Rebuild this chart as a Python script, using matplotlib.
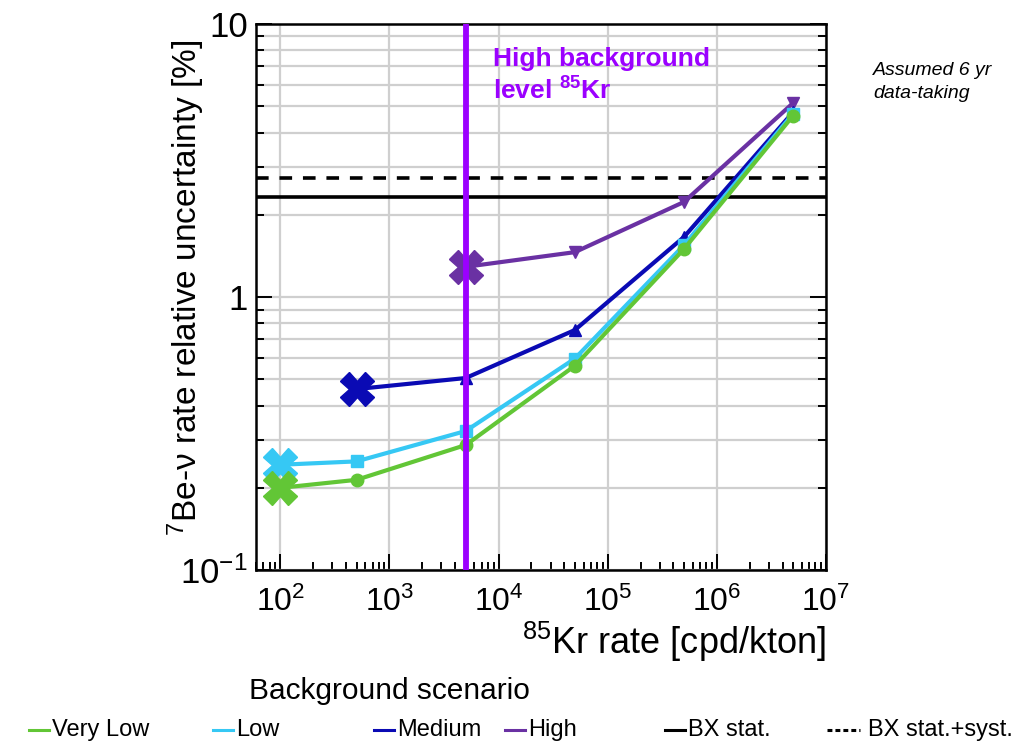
import matplotlib
matplotlib.use("Agg")
import matplotlib.pyplot as plt
from matplotlib.lines import Line2D
from matplotlib.ticker import LogLocator, NullFormatter

plt.rcParams["font.family"] = ["Liberation Sans", "DejaVu Sans"]
plt.rcParams["mathtext.fontset"] = "custom"
plt.rcParams["mathtext.rm"] = "Liberation Sans"
plt.rcParams["mathtext.it"] = "Liberation Sans:italic"
plt.rcParams["mathtext.bf"] = "Liberation Sans:bold"

# 85Kr rate [cpd/kton]
kr_rate = [1e2, 5e2, 5e3, 5e4, 5e5, 5e6]

# 7Be-nu relative uncertainty [%] per background scenario
very_low = [0.20, 0.214, 0.287, 0.56, 1.50, 4.62]
low = [0.243, 0.25, 0.323, 0.595, 1.55, 4.70]
medium_rate = [5e2, 5e3, 5e4, 5e5, 5e6]
medium = [0.46, 0.505, 0.757, 1.66, 4.76]
high_rate = [5e3, 5e4, 5e5, 5e6]
high = [1.29, 1.46, 2.23, 5.14]

bx_stat = 2.32
bx_stat_syst = 2.73
high_bkg_kr = 5e3

x_ticks = [1e2, 1e3, 1e4, 1e5, 1e6, 1e7]
x_ticklabels = [r"$10^{2}$", r"$10^{3}$", r"$10^{4}$", r"$10^{5}$", r"$10^{6}$", r"$10^{7}$"]
y_ticks = [0.1, 1, 10]
y_ticklabels = [r"$10^{-1}$", "1", "10"]

scenarios = [
    ("High", high_rate, high, "#6a31a3", "v"),
    ("Medium", medium_rate, medium, "#0a0ab4", "^"),
    ("Low", kr_rate, low, "#36c8f4", "s"),
    ("Very Low", kr_rate, very_low, "#62c636", "o"),
]

fig = plt.figure(figsize=(10.25, 7.43), dpi=100)
ax = fig.add_axes([0.2498, 0.2328, 0.5561, 0.7349])
ax.set_xscale("log")
ax.set_yscale("log")
ax.set_xlim(60, 1e7)
ax.set_ylim(0.1, 10)

ax.xaxis.set_minor_locator(LogLocator(base=10, subs=range(2, 10), numticks=12))
ax.yaxis.set_minor_locator(LogLocator(base=10, subs=range(2, 10), numticks=12))
ax.xaxis.set_minor_formatter(NullFormatter())
ax.yaxis.set_minor_formatter(NullFormatter())
ax.set_xticks(x_ticks)
ax.set_xticklabels(x_ticklabels)
ax.set_yticks(y_ticks)
ax.set_yticklabels(y_ticklabels)

# grid: x on decades only, y on every tick
ax.grid(True, which="major", axis="x", color="#cfcfcf", lw=1.6)
ax.grid(True, which="both", axis="y", color="#cfcfcf", lw=1.6)
ax.set_axisbelow(True)

ax.tick_params(which="both", direction="in", right=True, top=False, width=1.4, colors="black")
ax.tick_params(which="major", length=11.5)
ax.tick_params(which="minor", length=5.8)
ax.tick_params(axis="x", which="major", labelsize=23, pad=12)
ax.tick_params(axis="y", which="major", labelsize=25, pad=6)
for sp in ax.spines.values():
    sp.set_linewidth(1.8)

# Borexino reference lines
ax.axhline(bx_stat, color="black", lw=2.6, zorder=2)
ax.axhline(bx_stat_syst, color="black", lw=2.6, ls=(0, (3.5, 3)), zorder=2)

for name, xs, ys, col, mk in scenarios:
    ax.plot(xs, ys, color=col, lw=3, marker=mk, ms=9, zorder=3)
    # first point of each scenario gets a big cross
    ax.plot(xs[0], ys[0], color=col, marker="X", ms=24, ls="none", zorder=4)

ax.axvline(high_bkg_kr, color="#9b00ff", lw=4.2, zorder=5)
fig.text(493 / 1025, 1 - 47 / 743, "High background\nlevel $^{\\mathbf{85}}$Kr",
         color="#9b00ff", fontsize=19, fontweight="bold", ha="left", va="top",
         linespacing=1.3)

fig.text(873 / 1025, 1 - 62 / 743, "Assumed 6 yr\ndata-taking", fontsize=14,
         style="italic", ha="left", va="top", linespacing=1.45)

fig.text(826 / 1025, 1 - 642 / 743, "$^{85}$Kr rate [cpd/kton]", fontsize=26,
         ha="right", va="center")
fig.text(186 / 1025, 1 - 288 / 743, "$^{7}$Be-\u03bd rate relative uncertainty [%]",
         fontsize=24, rotation=90, ha="center", va="center")

# legend row
fig.text(389 / 1025, 1 - 691 / 743, "Background scenario", fontsize=21.5,
         ha="center", va="center")
legend_items = [
    ("Very Low", "#62c636", "-", 52),
    ("Low", "#36c8f4", "-", 236),
    ("Medium", "#0a0ab4", "-", 397),
    ("High", "#6a31a3", "-", 528),
    ("BX stat.", "black", "-", 688),
    ("BX stat.+syst.", "black", (0, (1.6, 1.0)), 868),
]
y_leg = 1 - 730 / 743
for label, col, ls, x_txt in legend_items:
    length = 33 if label == "BX stat.+syst." else 20
    gap = 8 if label == "BX stat.+syst." else 3
    fig.add_artist(Line2D([(x_txt - gap - length) / 1025, (x_txt - gap) / 1025], [y_leg, y_leg],
                          transform=fig.transFigure, color=col, lw=2.2, ls=ls))
    fig.text(x_txt / 1025, y_leg, label, fontsize=17, ha="left", va="center")

fig.savefig("out.png", dpi=100)
